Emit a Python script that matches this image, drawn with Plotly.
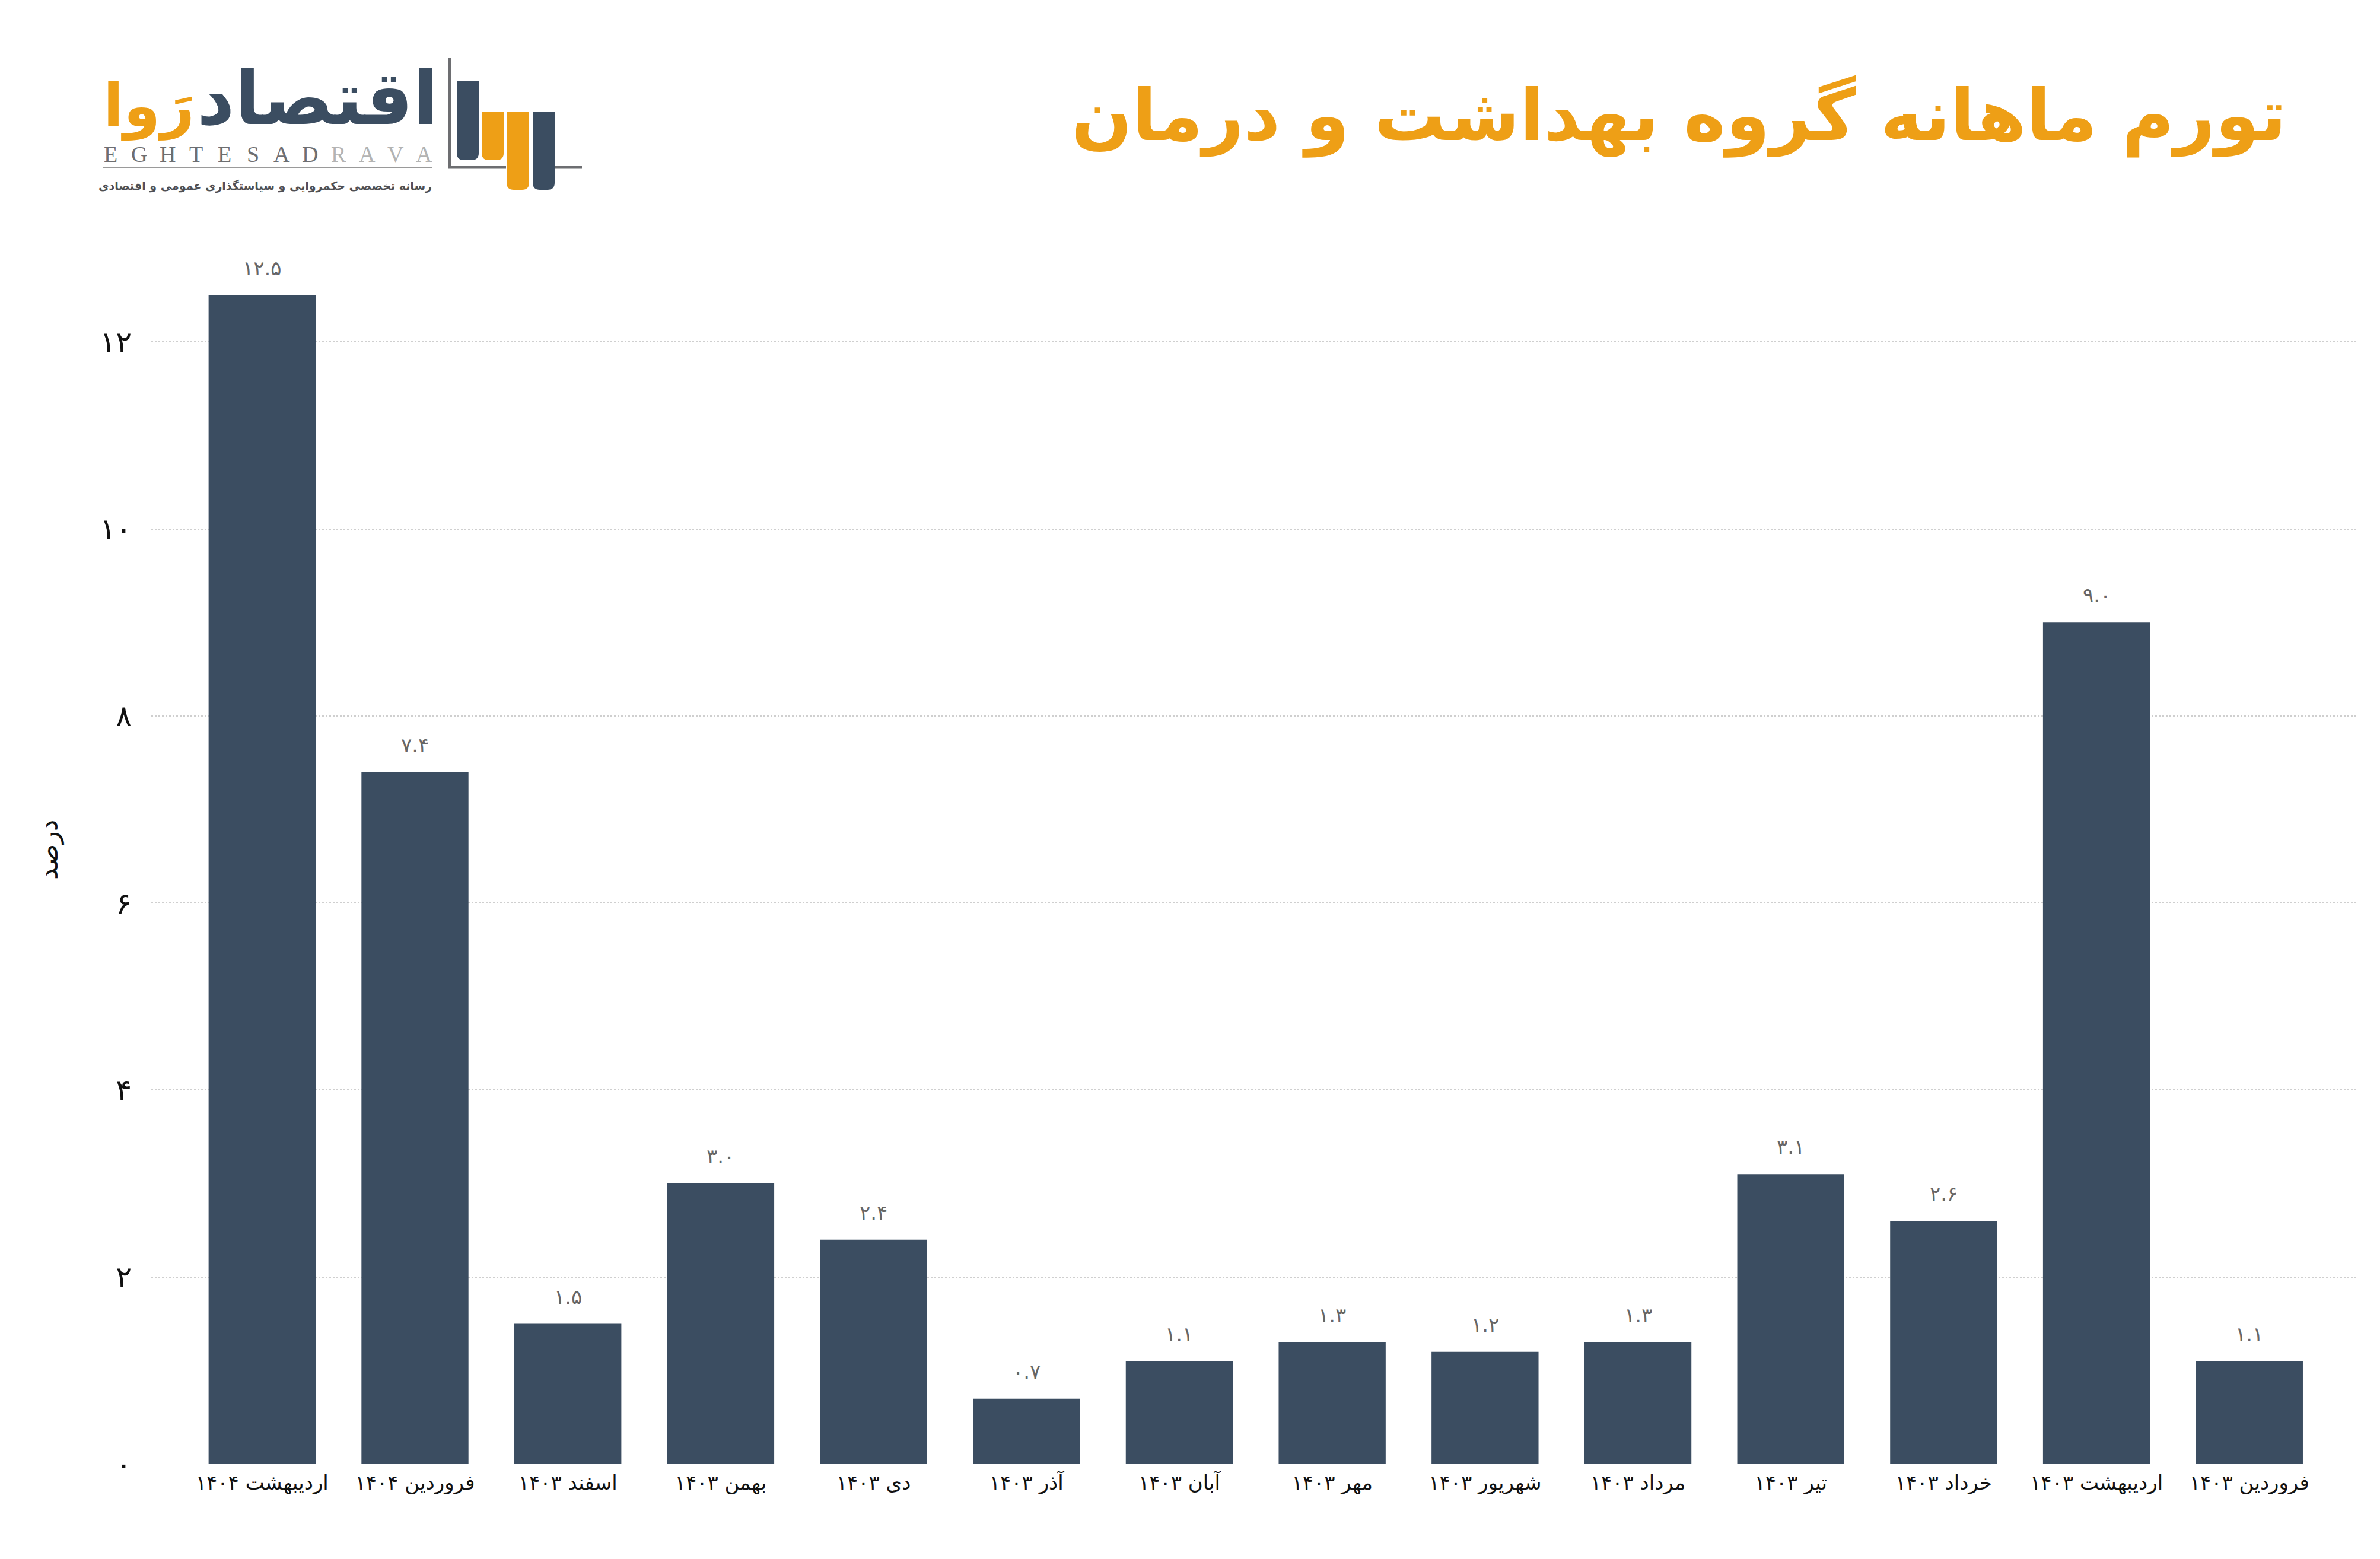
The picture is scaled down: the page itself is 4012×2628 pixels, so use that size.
import plotly.graph_objects as go

# ---------------- data ----------------
categories = [
    "اردیبهشت ۱۴۰۴", "فروردین ۱۴۰۴", "اسفند ۱۴۰۳", "بهمن ۱۴۰۳", "دی ۱۴۰۳",
    "آذر ۱۴۰۳", "آبان ۱۴۰۳", "مهر ۱۴۰۳", "شهریور ۱۴۰۳", "مرداد ۱۴۰۳",
    "تیر ۱۴۰۳", "خرداد ۱۴۰۳", "اردیبهشت ۱۴۰۳", "فروردین ۱۴۰۳",
]
values = [12.5, 7.4, 1.5, 3.0, 2.4, 0.7, 1.1, 1.3, 1.2, 1.3, 3.1, 2.6, 9.0, 1.1]
value_labels = ["۱۲.۵", "۷.۴", "۱.۵", "۳.۰", "۲.۴", "۰.۷", "۱.۱", "۱.۳", "۱.۲", "۱.۳",
                "۳.۱", "۲.۶", "۹.۰", "۱.۱"]
y_tickvals = [0, 2, 4, 6, 8, 10, 12]
y_ticktext = ["۰", "۲", "۴", "۶", "۸", "۱۰", "۱۲"]

title_text = "تورم ماهانه گروه بهداشت و درمان"
y_title = "درصد"

# ---------------- layout geometry ----------------
W, H = 4012, 2628
L, R, T, B = 247, 3967, 332, 2460

def fx(px):
    return (px - L) / (R - L)

def fy(py):
    return (B - py) / (B - T)

NAVY = "#3b4d61"
ORANGE = "#ee9f16"
GRAY = "#6d6e71"
FONT = "DejaVu Sans, Noto Sans, sans-serif"

fig = go.Figure()
fig.add_trace(go.Bar(
    x=categories, y=values,
    marker=dict(color=NAVY, line=dict(width=0)),
    hoverinfo="skip",
))

annotations = []
# data labels
for c, v, t in zip(categories, values, value_labels):
    annotations.append(dict(
        x=c, y=v, xref="x", yref="y", text=t, showarrow=False,
        yanchor="bottom", yshift=24,
        font=dict(family=FONT, size=34, color="#666666"),
    ))

# y-axis title
annotations.append(dict(
    x=fx(74), y=fy(1425), xref="paper", yref="paper", text=y_title,
    showarrow=False, textangle=-90, xanchor="center", yanchor="middle",
    font=dict(family=FONT, size=44, color="#111111"),
))

# chart title
annotations.append(dict(
    x=fx(3848), y=fy(188), xref="paper", yref="paper", text="<b>" + title_text + "</b>",
    showarrow=False, xanchor="right", yanchor="middle",
    font=dict(family=FONT, size=120, color=ORANGE),
))

# ---------------- logo ----------------
annotations.append(dict(
    x=fx(322), y=fy(232), xref="paper", yref="paper", text="<b>اقتصاد</b>",
    showarrow=False, xanchor="left", yanchor="bottom",
    font=dict(family=FONT, size=124, color=NAVY),
))
annotations.append(dict(
    x=fx(164), y=fy(232), xref="paper", yref="paper", text="<b>رَوا</b>",
    showarrow=False, xanchor="left", yanchor="bottom",
    font=dict(family=FONT, size=100, color=ORANGE),
))
letters = list("EGHTESADRAVA")
for i, ch in enumerate(letters):
    annotations.append(dict(
        x=fx(178 + i * 48.1), y=fy(252), xref="paper", yref="paper", text=ch,
        showarrow=False, xanchor="center", yanchor="middle",
        font=dict(family="Liberation Serif, DejaVu Serif, serif", size=38,
                  color=GRAY if i < 8 else "#b3b3b3"),
    ))
annotations.append(dict(
    x=fx(722), y=fy(306), xref="paper", yref="paper",
    text="<b>رسانه تخصصی حکمروایی و سیاستگذاری عمومی و اقتصادی</b>",
    showarrow=False, xanchor="right", yanchor="middle",
    font=dict(family=FONT, size=19, color="#4f4f53"),
))

shapes = []
# underline of latin logotype
shapes.append(dict(type="line", xref="paper", yref="paper",
                   x0=fx(166), x1=fx(720), y0=fy(274), y1=fy(274),
                   line=dict(color="#9a9a9a", width=2)))
# icon frame
shapes.append(dict(type="line", xref="paper", yref="paper",
                   x0=fx(750), x1=fx(750), y0=fy(89), y1=fy(276),
                   line=dict(color=GRAY, width=5)))
shapes.append(dict(type="line", xref="paper", yref="paper",
                   x0=fx(748), x1=fx(845), y0=fy(274), y1=fy(274),
                   line=dict(color=GRAY, width=5)))
shapes.append(dict(type="line", xref="paper", yref="paper",
                   x0=fx(925), x1=fx(973), y0=fy(274), y1=fy(274),
                   line=dict(color=GRAY, width=5)))

def rounded_bar(x0, x1, y0, y1, r, color):
    p = (f"M {fx(x0)},{fy(y0)} L {fx(x1)},{fy(y0)} L {fx(x1)},{fy(y1 - r)} "
         f"Q {fx(x1)},{fy(y1)} {fx(x1 - r)},{fy(y1)} L {fx(x0 + r)},{fy(y1)} "
         f"Q {fx(x0)},{fy(y1)} {fx(x0)},{fy(y1 - r)} Z")
    return dict(type="path", xref="paper", yref="paper", path=p,
                fillcolor=color, line=dict(width=0))

shapes.append(rounded_bar(762, 799, 129, 262, 12, NAVY))
shapes.append(rounded_bar(804, 841, 181, 262, 12, ORANGE))
shapes.append(rounded_bar(846, 884, 181, 312, 12, ORANGE))
shapes.append(rounded_bar(890, 927, 181, 312, 12, NAVY))

fig.update_layout(
    width=W, height=H,
    margin=dict(l=L, r=W - R, t=T, b=H - B, autoexpand=False),
    paper_bgcolor="white", plot_bgcolor="white",
    bargap=0.30,
    showlegend=False,
    annotations=annotations,
    shapes=shapes,
    font=dict(family=FONT),
)
fig.update_xaxes(
    type="category", range=[-0.725, 13.711],
    showgrid=False, showline=False, zeroline=False, ticks="",
    tickfont=dict(family=FONT, size=34, color="#111111"),
    ticklabelstandoff=8,
    automargin=False,
)
fig.update_yaxes(
    range=[0, 13.5], tickvals=y_tickvals, ticktext=y_ticktext,
    showgrid=True, gridcolor="#cfcfcf", gridwidth=2, griddash="dot",
    zeroline=False, showline=False, ticks="",
    tickfont=dict(family=FONT, size=50, color="#111111"),
    ticklabelstandoff=32,
    automargin=False,
)

fig.write_html("out.html")
